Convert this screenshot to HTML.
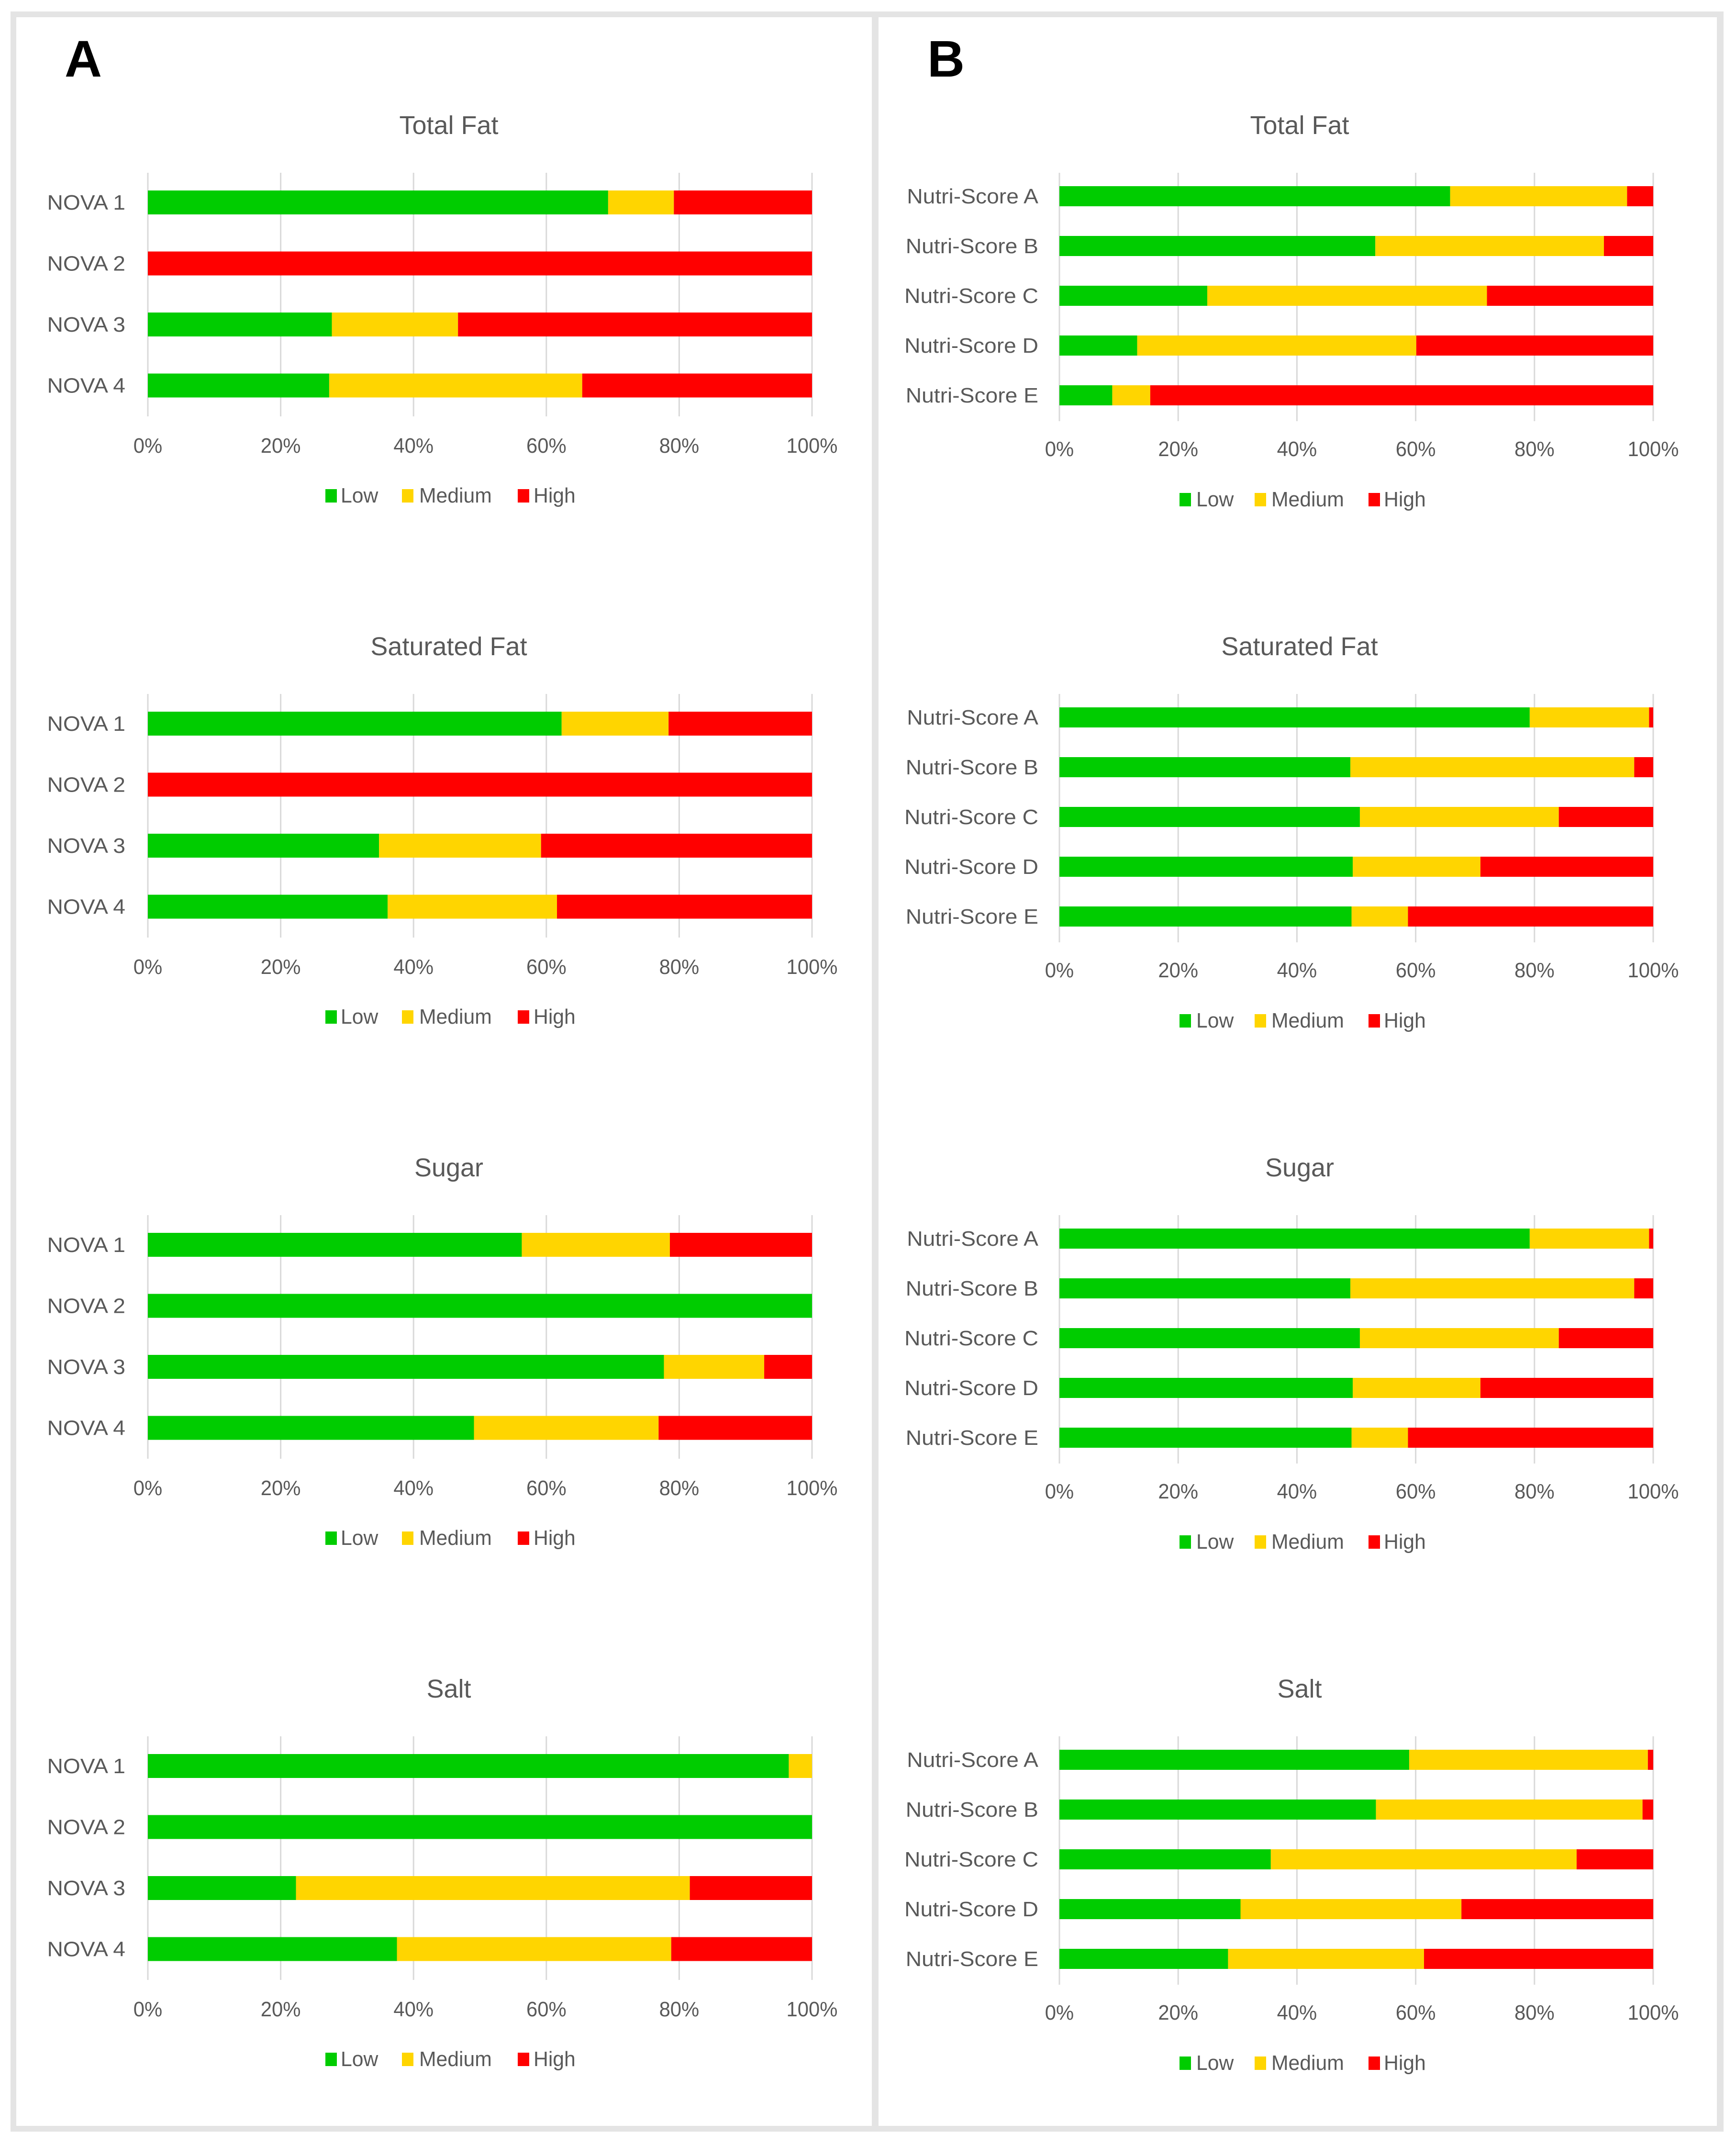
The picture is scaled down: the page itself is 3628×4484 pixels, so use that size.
<!DOCTYPE html>
<html><head><meta charset="utf-8"><style>
html,body{margin:0;padding:0;background:#fff;}
svg{display:block;}
text{font-family:"Liberation Sans",sans-serif;fill:#595959;}
</style></head><body>
<svg id="fig" width="3628" height="4484" viewBox="0 0 3628 4484" xmlns="http://www.w3.org/2000/svg">
<rect x="22" y="24" width="3580" height="4430" fill="#e4e4e4"/>
<rect x="34" y="36" width="1788" height="4406" fill="#fff"/>
<rect x="1836" y="36" width="1752" height="4406" fill="#fff"/>
<text x="135" y="160" font-size="108" font-weight="bold" style="fill:#000">A</text>
<text x="1938" y="160" font-size="108" font-weight="bold" style="fill:#000">B</text>
<g id="charts"></g>
</svg>
<script>
const NS = "http://www.w3.org/2000/svg";
const seriesNames = ["Low", "Medium", "High"];
const chartTitles = ["Total Fat", "Saturated Fat", "Sugar", "Salt"];
const novaCategories = ["NOVA 1", "NOVA 2", "NOVA 3", "NOVA 4"];
const nutriCategories = ["Nutri-Score A", "Nutri-Score B", "Nutri-Score C", "Nutri-Score D", "Nutri-Score E"];
const tickLabels = ["0%", "20%", "40%", "60%", "80%", "100%"];
const tickValues = [0, 20, 40, 60, 80, 100];
// Panel A: Low and Medium percentages (High = remainder)
const novaTotalFatLow = [69.3, 0, 27.7, 27.3];
const novaTotalFatMed = [9.9, 0, 19.0, 38.1];
const novaSatFatLow = [62.3, 0, 34.8, 36.1];
const novaSatFatMed = [16.1, 0, 24.4, 25.5];
const novaSugarLow = [56.3, 100, 77.7, 49.1];
const novaSugarMed = [22.3, 0, 15.1, 27.8];
const novaSaltLow = [96.5, 100, 22.3, 37.5];
const novaSaltMed = [3.5, 0, 59.3, 41.3];
// Panel B
const nutriTotalFatLow = [65.8, 53.2, 24.9, 13.1, 8.9];
const nutriTotalFatMed = [29.8, 38.5, 47.1, 47.0, 6.4];
const nutriSatFatLow = [79.2, 49.0, 50.6, 49.4, 49.2];
const nutriSatFatMed = [20.1, 47.8, 33.5, 21.5, 9.5];
const nutriSugarLow = [79.2, 49.0, 50.6, 49.4, 49.2];
const nutriSugarMed = [20.1, 47.8, 33.5, 21.5, 9.5];
const nutriSaltLow = [58.9, 53.3, 35.6, 30.5, 28.4];
const nutriSaltMed = [40.2, 44.9, 51.5, 37.2, 33.0];

const colors = ["#00cc00", "#ffd500", "#ff0000"];
const root = document.getElementById("charts");

function mk(tag, attrs, parent) {
  const e = document.createElementNS(NS, tag);
  for (const k in attrs) e.setAttribute(k, attrs[k]);
  (parent || root).appendChild(e);
  return e;
}
function txt(str, attrs, stretch, parent) {
  const t = mk("text", attrs, parent);
  t.textContent = str;
  const w = t.getComputedTextLength();
  if (w > 0) { t.setAttribute("textLength", w * stretch); t.setAttribute("lengthAdjust", "spacingAndGlyphs"); }
  return t;
}

function drawChart(cfg) {
  const g = mk("g", {});
  
  
  const xs = v => cfg.x0 + (cfg.x1 - cfg.x0) * v / 100;
  const t = txt(cfg.title, {x: cfg.titleX, y: cfg.oy + 280, "font-size": 54, "text-anchor": "middle", fill: "#404040"}, 1.0, g);
  
  
  tickValues.forEach((v, i) => {
    const l = mk("line", {x1: xs(v), x2: xs(v), y1: cfg.oy + 361, y2: cfg.oy + cfg.gridBottom, stroke: "#d9d9d9", "stroke-width": 3}, g);
    
    
    const tl = txt(tickLabels[i], {x: xs(v), y: cfg.oy + cfg.tickY, "font-size": 44, "text-anchor": "middle"}, 0.95, g);
    
    
  });
  cfg.cats.forEach((c, i) => {
    const yTop = cfg.oy + cfg.barTop + i * cfg.pitch;
    const low = cfg.low[i], med = cfg.med[i], high = 100 - low - med;
    const segs = [[0, low], [low, low + med], [low + med, low + med + high]];
    segs.forEach((s, k) => {
      if (s[1] - s[0] <= 0.01) return;
      const r = mk("rect", {x: xs(s[0]), y: yTop, width: xs(s[1]) - xs(s[0]), height: cfg.barH, fill: colors[k]}, g);
      
      
    });
    const cl = txt(c, {x: cfg.labelX, y: yTop + cfg.barH / 2 + 15, "font-size": 44, "text-anchor": "end"}, 1.05, g);
    
    
  });
  cfg.legend.forEach((lg, k) => {
    const sq = mk("rect", {x: lg[0], y: cfg.oy + cfg.legY - 28, width: 24, height: 28, fill: colors[k]}, g);
    
    
    const lt = txt(seriesNames[k], {x: lg[1], y: cfg.oy + cfg.legY, "font-size": 44}, 0.97, g);
    
    
  });
}

const novaLow = [novaTotalFatLow, novaSatFatLow, novaSugarLow, novaSaltLow];
const novaMed = [novaTotalFatMed, novaSatFatMed, novaSugarMed, novaSaltMed];
const nutriLow = [nutriTotalFatLow, nutriSatFatLow, nutriSugarLow, nutriSaltLow];
const nutriMed = [nutriTotalFatMed, nutriSatFatMed, nutriSugarMed, nutriSaltMed];

for (let c = 0; c < 4; c++) {
  const oy = c * 1089;
  drawChart({name: "panel-a-chart-" + (c + 1), title: chartTitles[c], oy: oy, titleX: 938, x0: 309, x1: 1697,
    cats: novaCategories, low: novaLow[c], med: novaMed[c], barTop: 398, pitch: 127.5, barH: 50,
    gridBottom: 870, tickY: 946, labelX: 262, legY: 1050,
    legend: [[680, 712], [840, 876], [1082, 1115]]});
  drawChart({name: "panel-b-chart-" + (c + 1), title: chartTitles[c], oy: oy, titleX: 2716, x0: 2214, x1: 3455,
    cats: nutriCategories, low: nutriLow[c], med: nutriMed[c], barTop: 389, pitch: 104, barH: 42,
    gridBottom: 880, tickY: 953, labelX: 2170, legY: 1058,
    legend: [[2465, 2500], [2622, 2657], [2860, 2892]]});
}
</script>
</body></html>
